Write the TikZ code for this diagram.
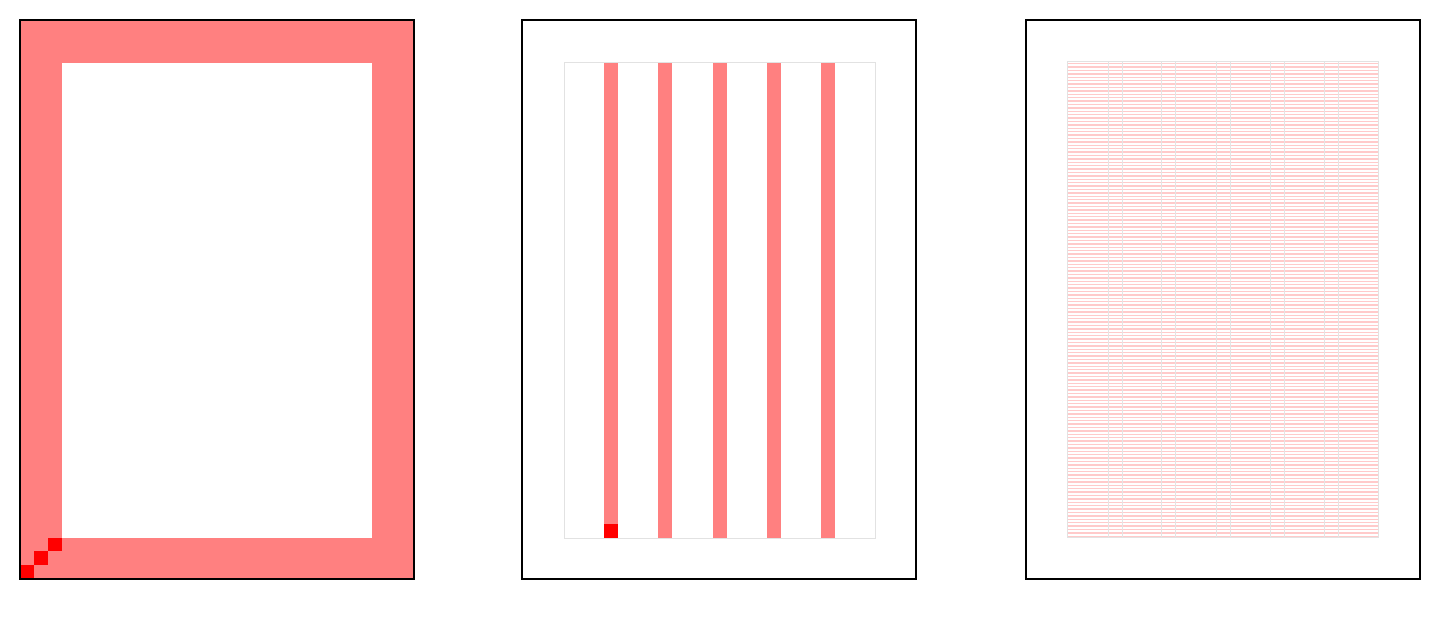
\documentclass[tikz,border=0pt]{standalone}
\definecolor{pinkfill}{HTML}{FF8080}
\definecolor{redsq}{HTML}{FF0000}
\definecolor{gridpink}{HTML}{FFCACA}
\definecolor{gridgray}{HTML}{E4E4E4}
\definecolor{innergray}{HTML}{E2E2E2}
\tikzset{
  panel/.style={draw=black,line width=1.1pt},
  bar/.style={fill=pinkfill,draw=none},
  redbox/.style={fill=redsq,draw=none},
  inner/.style={draw=innergray,line width=0.5pt},
  hline/.style={draw=gridpink,line width=0.7pt},
  vline/.style={draw=gridgray,line width=0.5pt},
}
\begin{document}
\begin{tikzpicture}[x=0.5pt,y=-0.5pt]
\useasboundingbox (0,0) rectangle (1440,620);
\fill[white] (0,0) rectangle (1440,620);
% Panel 1
\fill[pinkfill] (20,20) rectangle (414,579);
\fill[white] (62,63) rectangle (372,538);
\path[redbox] (20,565) rectangle (34,579);
\path[redbox] (34,551) rectangle (48,565);
\path[redbox] (48,538) rectangle (62,551);
\draw[panel] (20,20) rectangle (414,579);
% Panel 2
\draw[inner] (564,63) rectangle (875,538);
\foreach \x in {604,658,713,767,821}{
  \path[bar] (\x,63) rectangle ({\x+14},538);
}
\path[redbox] (604,524) rectangle (618,538);
\draw[panel] (522,20) rectangle (916,579);
% Panel 3
\foreach \i in {0,...,139}{
  \path[hline] (1067,{63.7+\i*3.4}) -- (1378,{63.7+\i*3.4});
}
\foreach \x in {41,55,94,108,149,163,203,217,257,271}{
  \path[vline] ({1067+\x},62) -- ({1067+\x},537);
}
\draw[inner] (1067,62) rectangle (1378,537);
\draw[panel] (1026,20) rectangle (1420,579);
\end{tikzpicture}
\end{document}
